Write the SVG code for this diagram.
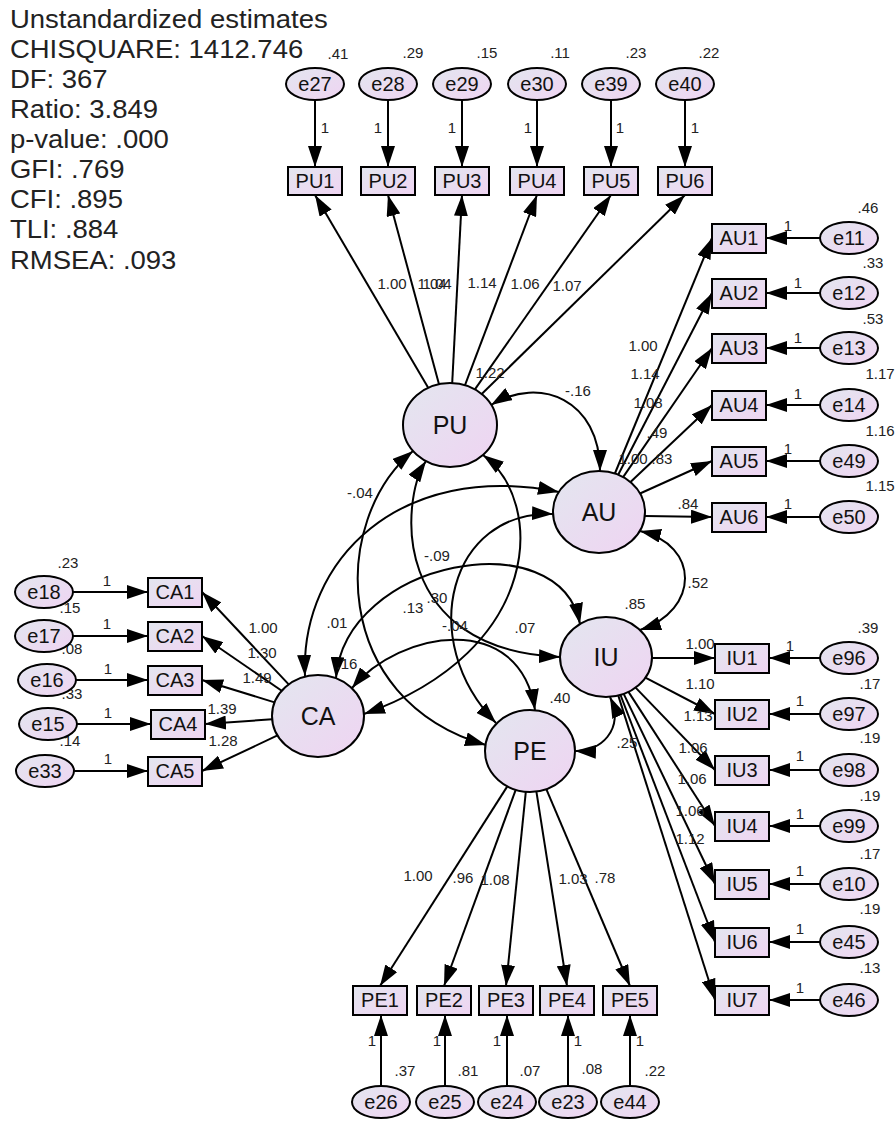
<svg xmlns="http://www.w3.org/2000/svg" width="896" height="1122" viewBox="0 0 896 1122">
<style>
.n{fill:url(#g);stroke:#000;stroke-width:2}
.t{font-family:"Liberation Sans",Arial,sans-serif;font-size:20px;fill:#111;text-anchor:middle;dominant-baseline:central}
.lt{font-family:"Liberation Sans",Arial,sans-serif;font-size:25px;fill:#111;text-anchor:middle;dominant-baseline:central}
.l{font-family:"Liberation Sans",Arial,sans-serif;font-size:15px;fill:#222;text-anchor:middle;dominant-baseline:central}
.s{font-family:"Liberation Sans",Arial,sans-serif;font-size:25px;fill:#222}
.c{fill:none;stroke:#000;stroke-width:2}
.a{marker-end:url(#ah)}
.b{marker-start:url(#ah);marker-end:url(#ah)}
</style>
<defs>
<linearGradient id="g" x1="0" y1="0" x2="1" y2="1">
<stop offset="0" stop-color="#e3e6ef"/>
<stop offset="1" stop-color="#efd4f2"/>
</linearGradient>
<marker id="ah" viewBox="0 0 21 14" refX="21" refY="7" markerWidth="21" markerHeight="14" markerUnits="userSpaceOnUse" orient="auto-start-reverse">
<path d="M0,0 L21,7 L0,14 z" fill="#000"/>
</marker>
</defs>
<rect width="896" height="1122" fill="#fff"/>

<g id="stats" transform="scale(1.1,1)">
<text class="s" x="9" y="28">Unstandardized estimates</text>
<text class="s" x="9" y="58">CHISQUARE: 1412.746</text>
<text class="s" x="9" y="88">DF: 367</text>
<text class="s" x="9" y="118">Ratio: 3.849</text>
<text class="s" x="9" y="148">p-value: .000</text>
<text class="s" x="9" y="178">GFI: .769</text>
<text class="s" x="9" y="208">CFI: .895</text>
<text class="s" x="9" y="238">TLI: .884</text>
<text class="s" x="9" y="269">RMSEA: .093</text>
</g>

<g id="connectors">
<!-- error to PU indicators -->
<line class="c a" x1="315" y1="100" x2="315" y2="167"/>
<line class="c a" x1="388" y1="100" x2="388" y2="167"/>
<line class="c a" x1="462" y1="100" x2="462" y2="167"/>
<line class="c a" x1="537" y1="100" x2="537" y2="167"/>
<line class="c a" x1="611" y1="100" x2="611" y2="167"/>
<line class="c a" x1="685" y1="100" x2="685" y2="167"/>
<!-- PU loadings -->
<line class="c a" x1="428.2" y1="387.8" x2="315" y2="195"/>
<line class="c a" x1="439" y1="384.2" x2="388" y2="195"/>
<line class="c a" x1="452.2" y1="383" x2="462" y2="195"/>
<line class="c a" x1="465" y1="385.2" x2="537" y2="195"/>
<line class="c a" x1="474.9" y1="389.4" x2="611" y2="195"/>
<line class="c a" x1="481.7" y1="394" x2="685" y2="195"/>
<!-- AU loadings -->
<line class="c a" x1="614.9" y1="473.5" x2="712" y2="238"/>
<line class="c a" x1="618.2" y1="474.8" x2="712" y2="293"/>
<line class="c a" x1="623.1" y1="477.1" x2="712" y2="348"/>
<line class="c a" x1="630.5" y1="482.1" x2="712" y2="405"/>
<line class="c a" x1="640" y1="493.5" x2="712" y2="461"/>
<line class="c a" x1="645" y1="516" x2="712" y2="517"/>
<!-- AU errors -->
<line class="c a" x1="820" y1="238" x2="766" y2="238"/>
<line class="c a" x1="820" y1="293" x2="766" y2="293"/>
<line class="c a" x1="820" y1="348" x2="766" y2="348"/>
<line class="c a" x1="820" y1="405" x2="766" y2="405"/>
<line class="c a" x1="820" y1="461" x2="766" y2="461"/>
<line class="c a" x1="820" y1="517" x2="766" y2="517"/>
<!-- IU loadings -->
<line class="c a" x1="652" y1="658" x2="715" y2="658"/>
<line class="c a" x1="645.4" y1="677.6" x2="715" y2="714"/>
<line class="c a" x1="635.6" y1="687.6" x2="715" y2="770"/>
<line class="c a" x1="628.5" y1="691.9" x2="715" y2="826"/>
<line class="c a" x1="623.7" y1="693.9" x2="715" y2="884"/>
<line class="c a" x1="620.5" y1="695" x2="715" y2="942"/>
<line class="c a" x1="618.3" y1="695.6" x2="715" y2="1000"/>
<!-- IU errors -->
<line class="c a" x1="820" y1="658" x2="769" y2="658"/>
<line class="c a" x1="820" y1="714" x2="769" y2="714"/>
<line class="c a" x1="820" y1="770" x2="769" y2="770"/>
<line class="c a" x1="820" y1="826" x2="769" y2="826"/>
<line class="c a" x1="820" y1="884" x2="769" y2="884"/>
<line class="c a" x1="820" y1="942" x2="769" y2="942"/>
<line class="c a" x1="820" y1="1000" x2="769" y2="1000"/>
<!-- CA loadings -->
<line class="c a" x1="288.7" y1="684.4" x2="202" y2="592"/>
<line class="c a" x1="281.7" y1="690.8" x2="202" y2="636"/>
<line class="c a" x1="274.6" y1="702.4" x2="202" y2="680"/>
<line class="c a" x1="272.1" y1="719.3" x2="205" y2="724"/>
<line class="c a" x1="277.5" y1="735.4" x2="202" y2="771"/>
<!-- CA errors -->
<line class="c a" x1="73" y1="592" x2="148" y2="592"/>
<line class="c a" x1="73" y1="636" x2="148" y2="636"/>
<line class="c a" x1="76" y1="680" x2="148" y2="680"/>
<line class="c a" x1="77" y1="724" x2="151" y2="724"/>
<line class="c a" x1="74" y1="771" x2="148" y2="771"/>
<!-- PE loadings -->
<line class="c a" x1="507.3" y1="786.4" x2="380" y2="986"/>
<line class="c a" x1="515.7" y1="789.9" x2="444" y2="986"/>
<line class="c a" x1="525.8" y1="791.8" x2="506" y2="986"/>
<line class="c a" x1="536.4" y1="791.6" x2="567" y2="986"/>
<line class="c a" x1="546.3" y1="789.2" x2="630" y2="986"/>
<!-- PE errors -->
<line class="c a" x1="381" y1="1086" x2="381" y2="1015"/>
<line class="c a" x1="445" y1="1086" x2="445" y2="1015"/>
<line class="c a" x1="507" y1="1086" x2="507" y2="1015"/>
<line class="c a" x1="568" y1="1086" x2="568" y2="1015"/>
<line class="c a" x1="630" y1="1086" x2="630" y2="1015"/>
<!-- covariances -->
<path class="c b" d="M491,405 C540,375 600,400 600,471"/>
<path class="c b" d="M305,676 C300,560 400,460 559,492"/>
<path class="c b" d="M413,451 C330,520 330,700 486,745"/>
<path class="c b" d="M426,461 C400,500 390,650 560,657"/>
<path class="c b" d="M553,514 C450,510 415,640 496,723"/>
<path class="c b" d="M483,455 C545,500 545,650 364,714"/>
<path class="c b" d="M336,678 C345,560 560,520 580,624"/>
<path class="c b" d="M352,688 C400,630 520,610 535,710"/>
<path class="c b" d="M640,531 C700,545 700,610 640,630"/>
<path class="c b" d="M610,697 C625,730 600,752 575,751"/>
</g>

<g id="labels">
<text class="l" x="338" y="53">.41</text>
<text class="l" x="413" y="52">.29</text>
<text class="l" x="487" y="52">.15</text>
<text class="l" x="560" y="52">.11</text>
<text class="l" x="636" y="52">.23</text>
<text class="l" x="709" y="52">.22</text>
<text class="l" x="325" y="127">1</text>
<text class="l" x="378" y="127">1</text>
<text class="l" x="452" y="127">1</text>
<text class="l" x="528" y="127">1</text>
<text class="l" x="620" y="127">1</text>
<text class="l" x="695" y="127">1</text>
<text class="l" x="392" y="283">1.00</text>
<text class="l" x="432" y="283">1.04</text>
<text class="l" x="437" y="283">1.04</text>
<text class="l" x="482" y="282">1.14</text>
<text class="l" x="525" y="283">1.06</text>
<text class="l" x="567" y="285">1.07</text>
<text class="l" x="490" y="372">1.22</text>
<text class="l" x="578" y="390">-.16</text>
<text class="l" x="643" y="345">1.00</text>
<text class="l" x="645" y="373">1.14</text>
<text class="l" x="648" y="402">1.08</text>
<text class="l" x="657" y="432">.49</text>
<text class="l" x="633" y="458">1.00</text>
<text class="l" x="662" y="458">.83</text>
<text class="l" x="688" y="503">.84</text>
<text class="l" x="788" y="225">1</text>
<text class="l" x="798" y="282">1</text>
<text class="l" x="798" y="337">1</text>
<text class="l" x="798" y="393">1</text>
<text class="l" x="788" y="448">1</text>
<text class="l" x="788" y="503">1</text>
<text class="l" x="868" y="207">.46</text>
<text class="l" x="873" y="262">.33</text>
<text class="l" x="873" y="318">.53</text>
<text class="l" x="880" y="373">1.17</text>
<text class="l" x="880" y="430">1.16</text>
<text class="l" x="880" y="485">1.15</text>
<text class="l" x="635" y="603">.85</text>
<text class="l" x="698" y="582">.52</text>
<text class="l" x="627" y="742">.25</text>
<text class="l" x="700" y="643">1.00</text>
<text class="l" x="700" y="683">1.10</text>
<text class="l" x="698" y="715">1.13</text>
<text class="l" x="693" y="747">1.06</text>
<text class="l" x="692" y="778">1.06</text>
<text class="l" x="690" y="810">1.06</text>
<text class="l" x="690" y="838">1.12</text>
<text class="l" x="790" y="645">1</text>
<text class="l" x="800" y="700">1</text>
<text class="l" x="800" y="755">1</text>
<text class="l" x="800" y="813">1</text>
<text class="l" x="800" y="870">1</text>
<text class="l" x="800" y="928">1</text>
<text class="l" x="800" y="987">1</text>
<text class="l" x="868" y="627">.39</text>
<text class="l" x="870" y="683">.17</text>
<text class="l" x="870" y="737">.19</text>
<text class="l" x="870" y="795">.19</text>
<text class="l" x="870" y="853">.17</text>
<text class="l" x="870" y="908">.19</text>
<text class="l" x="870" y="967">.13</text>
<text class="l" x="347" y="663">.16</text>
<text class="l" x="263" y="627">1.00</text>
<text class="l" x="262" y="652">1.30</text>
<text class="l" x="257" y="677">1.49</text>
<text class="l" x="222" y="708">1.39</text>
<text class="l" x="223" y="740">1.28</text>
<text class="l" x="107" y="580">1</text>
<text class="l" x="107" y="623">1</text>
<text class="l" x="108" y="668">1</text>
<text class="l" x="108" y="712">1</text>
<text class="l" x="108" y="758">1</text>
<text class="l" x="68" y="562">.23</text>
<text class="l" x="70" y="607">.15</text>
<text class="l" x="72" y="648">.08</text>
<text class="l" x="72" y="693">.33</text>
<text class="l" x="70" y="740">.14</text>
<text class="l" x="560" y="697">.40</text>
<text class="l" x="418" y="875">1.00</text>
<text class="l" x="463" y="877">.96</text>
<text class="l" x="495" y="879">1.08</text>
<text class="l" x="573" y="878">1.03</text>
<text class="l" x="605" y="877">.78</text>
<text class="l" x="372" y="1040">1</text>
<text class="l" x="437" y="1040">1</text>
<text class="l" x="497" y="1040">1</text>
<text class="l" x="578" y="1040">1</text>
<text class="l" x="640" y="1040">1</text>
<text class="l" x="405" y="1070">.37</text>
<text class="l" x="468" y="1070">.81</text>
<text class="l" x="530" y="1070">.07</text>
<text class="l" x="592" y="1068">.08</text>
<text class="l" x="655" y="1070">.22</text>
<text class="l" x="360" y="492">-.04</text>
<text class="l" x="437" y="555">-.09</text>
<text class="l" x="437" y="597">.30</text>
<text class="l" x="413" y="607">.13</text>
<text class="l" x="337" y="622">.01</text>
<text class="l" x="455" y="625">-.04</text>
<text class="l" x="525" y="627">.07</text>
</g>

<g id="PU"><ellipse class="n" cx="450" cy="425" rx="47" ry="42"/><text class="lt" x="450" y="425">PU</text></g>
<g id="AU"><ellipse class="n" cx="599" cy="512" rx="46" ry="41"/><text class="lt" x="599" y="512">AU</text></g>
<g id="IU"><ellipse class="n" cx="606" cy="657" rx="46" ry="40"/><text class="lt" x="606" y="657">IU</text></g>
<g id="CA"><ellipse class="n" cx="318" cy="716" rx="46" ry="41"/><text class="lt" x="318" y="716">CA</text></g>
<g id="PE"><ellipse class="n" cx="530" cy="751" rx="45" ry="41"/><text class="lt" x="530" y="751">PE</text></g>

<g id="e27"><ellipse class="n" cx="315" cy="84" rx="29" ry="16"/><text class="t" x="315" y="84">e27</text></g>
<g id="e28"><ellipse class="n" cx="388" cy="84" rx="29" ry="16"/><text class="t" x="388" y="84">e28</text></g>
<g id="e29"><ellipse class="n" cx="462" cy="84" rx="29" ry="16"/><text class="t" x="462" y="84">e29</text></g>
<g id="e30"><ellipse class="n" cx="537" cy="84" rx="29" ry="16"/><text class="t" x="537" y="84">e30</text></g>
<g id="e39"><ellipse class="n" cx="611" cy="84" rx="29" ry="16"/><text class="t" x="611" y="84">e39</text></g>
<g id="e40"><ellipse class="n" cx="685" cy="84" rx="29" ry="16"/><text class="t" x="685" y="84">e40</text></g>

<g id="PU1"><rect class="n" x="288" y="167" width="54" height="28"/><text class="t" x="315" y="181">PU1</text></g>
<g id="PU2"><rect class="n" x="361" y="167" width="54" height="28"/><text class="t" x="388" y="181">PU2</text></g>
<g id="PU3"><rect class="n" x="435" y="167" width="54" height="28"/><text class="t" x="462" y="181">PU3</text></g>
<g id="PU4"><rect class="n" x="510" y="167" width="54" height="28"/><text class="t" x="537" y="181">PU4</text></g>
<g id="PU5"><rect class="n" x="584" y="167" width="54" height="28"/><text class="t" x="611" y="181">PU5</text></g>
<g id="PU6"><rect class="n" x="658" y="167" width="54" height="28"/><text class="t" x="685" y="181">PU6</text></g>

<g id="AU1"><rect class="n" x="712" y="224" width="54" height="29"/><text class="t" x="739" y="238">AU1</text></g>
<g id="AU2"><rect class="n" x="712" y="279" width="54" height="29"/><text class="t" x="739" y="293">AU2</text></g>
<g id="AU3"><rect class="n" x="712" y="334" width="54" height="29"/><text class="t" x="739" y="348">AU3</text></g>
<g id="AU4"><rect class="n" x="712" y="391" width="54" height="29"/><text class="t" x="739" y="405">AU4</text></g>
<g id="AU5"><rect class="n" x="712" y="447" width="54" height="29"/><text class="t" x="739" y="461">AU5</text></g>
<g id="AU6"><rect class="n" x="712" y="503" width="54" height="29"/><text class="t" x="739" y="517">AU6</text></g>

<g id="e11"><ellipse class="n" cx="849" cy="238" rx="29" ry="16"/><text class="t" x="849" y="238">e11</text></g>
<g id="e12"><ellipse class="n" cx="849" cy="293" rx="29" ry="16"/><text class="t" x="849" y="293">e12</text></g>
<g id="e13"><ellipse class="n" cx="849" cy="348" rx="29" ry="16"/><text class="t" x="849" y="348">e13</text></g>
<g id="e14"><ellipse class="n" cx="849" cy="405" rx="29" ry="16"/><text class="t" x="849" y="405">e14</text></g>
<g id="e49"><ellipse class="n" cx="849" cy="461" rx="29" ry="16"/><text class="t" x="849" y="461">e49</text></g>
<g id="e50"><ellipse class="n" cx="849" cy="517" rx="29" ry="16"/><text class="t" x="849" y="517">e50</text></g>

<g id="IU1"><rect class="n" x="715" y="644" width="54" height="29"/><text class="t" x="742" y="658">IU1</text></g>
<g id="IU2"><rect class="n" x="715" y="700" width="54" height="29"/><text class="t" x="742" y="714">IU2</text></g>
<g id="IU3"><rect class="n" x="715" y="756" width="54" height="29"/><text class="t" x="742" y="770">IU3</text></g>
<g id="IU4"><rect class="n" x="715" y="812" width="54" height="29"/><text class="t" x="742" y="826">IU4</text></g>
<g id="IU5"><rect class="n" x="715" y="870" width="54" height="29"/><text class="t" x="742" y="884">IU5</text></g>
<g id="IU6"><rect class="n" x="715" y="928" width="54" height="29"/><text class="t" x="742" y="942">IU6</text></g>
<g id="IU7"><rect class="n" x="715" y="986" width="54" height="29"/><text class="t" x="742" y="1000">IU7</text></g>

<g id="e96"><ellipse class="n" cx="849" cy="658" rx="29" ry="16"/><text class="t" x="849" y="658">e96</text></g>
<g id="e97"><ellipse class="n" cx="849" cy="714" rx="29" ry="16"/><text class="t" x="849" y="714">e97</text></g>
<g id="e98"><ellipse class="n" cx="849" cy="770" rx="29" ry="16"/><text class="t" x="849" y="770">e98</text></g>
<g id="e99"><ellipse class="n" cx="849" cy="826" rx="29" ry="16"/><text class="t" x="849" y="826">e99</text></g>
<g id="e10"><ellipse class="n" cx="849" cy="884" rx="29" ry="16"/><text class="t" x="849" y="884">e10</text></g>
<g id="e45"><ellipse class="n" cx="849" cy="942" rx="29" ry="16"/><text class="t" x="849" y="942">e45</text></g>
<g id="e46"><ellipse class="n" cx="849" cy="1000" rx="29" ry="16"/><text class="t" x="849" y="1000">e46</text></g>

<g id="CA1"><rect class="n" x="148" y="578" width="54" height="29"/><text class="t" x="175" y="592">CA1</text></g>
<g id="CA2"><rect class="n" x="148" y="622" width="54" height="29"/><text class="t" x="175" y="636">CA2</text></g>
<g id="CA3"><rect class="n" x="148" y="666" width="54" height="29"/><text class="t" x="175" y="680">CA3</text></g>
<g id="CA4"><rect class="n" x="151" y="710" width="54" height="29"/><text class="t" x="178" y="724">CA4</text></g>
<g id="CA5"><rect class="n" x="148" y="757" width="54" height="29"/><text class="t" x="175" y="771">CA5</text></g>

<g id="e18"><ellipse class="n" cx="44" cy="592" rx="29" ry="16"/><text class="t" x="44" y="592">e18</text></g>
<g id="e17"><ellipse class="n" cx="44" cy="636" rx="29" ry="16"/><text class="t" x="44" y="636">e17</text></g>
<g id="e16"><ellipse class="n" cx="47" cy="680" rx="29" ry="16"/><text class="t" x="47" y="680">e16</text></g>
<g id="e15"><ellipse class="n" cx="48" cy="724" rx="29" ry="16"/><text class="t" x="48" y="724">e15</text></g>
<g id="e33"><ellipse class="n" cx="45" cy="771" rx="29" ry="16"/><text class="t" x="45" y="771">e33</text></g>

<g id="PE1"><rect class="n" x="353" y="986" width="54" height="29"/><text class="t" x="380" y="1000">PE1</text></g>
<g id="PE2"><rect class="n" x="417" y="986" width="54" height="29"/><text class="t" x="444" y="1000">PE2</text></g>
<g id="PE3"><rect class="n" x="479" y="986" width="54" height="29"/><text class="t" x="506" y="1000">PE3</text></g>
<g id="PE4"><rect class="n" x="540" y="986" width="54" height="29"/><text class="t" x="567" y="1000">PE4</text></g>
<g id="PE5"><rect class="n" x="603" y="986" width="54" height="29"/><text class="t" x="630" y="1000">PE5</text></g>

<g id="e26"><ellipse class="n" cx="381" cy="1102" rx="29" ry="16"/><text class="t" x="381" y="1102">e26</text></g>
<g id="e25"><ellipse class="n" cx="445" cy="1102" rx="29" ry="16"/><text class="t" x="445" y="1102">e25</text></g>
<g id="e24"><ellipse class="n" cx="507" cy="1102" rx="29" ry="16"/><text class="t" x="507" y="1102">e24</text></g>
<g id="e23"><ellipse class="n" cx="568" cy="1102" rx="29" ry="16"/><text class="t" x="568" y="1102">e23</text></g>
<g id="e44"><ellipse class="n" cx="630" cy="1102" rx="29" ry="16"/><text class="t" x="630" y="1102">e44</text></g>
</svg>
